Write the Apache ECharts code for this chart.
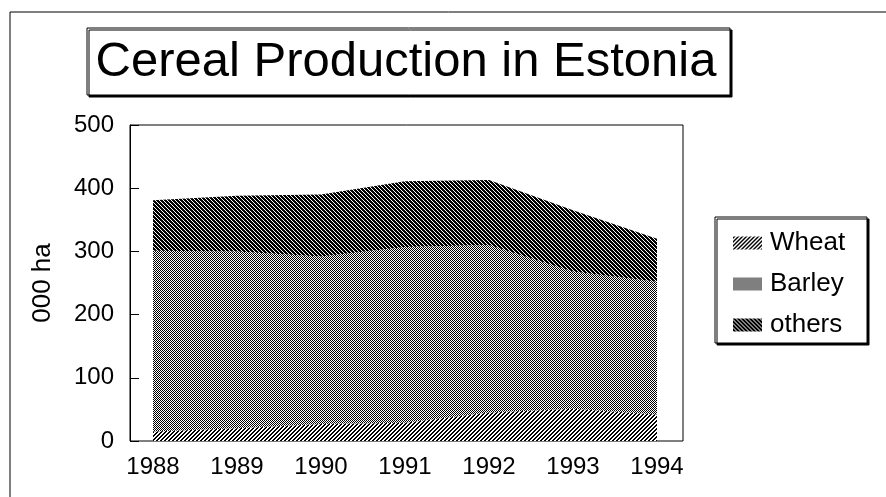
<!DOCTYPE html>
<html>
<head>
<meta charset="utf-8">
<script src="https://cdn.jsdelivr.net/npm/echarts@6/dist/echarts.min.js"></script>
<style>
  html, body { margin: 0; padding: 0; background: #fff; }
  #chart { width: 886px; height: 497px; }
</style>
</head>
<body>
<div id="chart"></div>
<script>
// data (000 ha)
var years = ['1988', '1989', '1990', '1991', '1992', '1993', '1994'];
var wheat = [15, 20, 27, 29, 45, 51, 42];
var barley = [286, 280, 265, 278, 265, 217, 210];
var others = [80, 88, 98, 104, 103, 97, 68];
var yTicks = { min: 0, max: 500, interval: 100 };

var FONT = '"Liberation Sans", Arial, sans-serif';

// black/white fill patterns like the old printout
function makeTile(size, fn) {
  var c = document.createElement('canvas');
  c.width = c.height = size;
  var ctx = c.getContext('2d');
  ctx.fillStyle = '#fff';
  ctx.fillRect(0, 0, size, size);
  ctx.fillStyle = '#000';
  for (var y = 0; y < size; y++) {
    for (var x = 0; x < size; x++) {
      if (fn(x, y)) ctx.fillRect(x, y, 1, 1);
    }
  }
  return { image: c, repeat: 'repeat' };
}
var wheatPat = makeTile(4, function (x, y) { return (x + y) % 4 < 2; });
var barleyPat = makeTile(4, function (x, y) { return (x + y) % 2 === 0; });
var othersPat = makeTile(4, function (x, y) { return (x + y) % 2 === 0 || (x - y + 8) % 4 === 1; });

function areaSeries(name, data, pat) {
  return {
    name: name,
    type: 'line',
    stack: 'total',
    xAxisIndex: 1,
    yAxisIndex: 1,
    data: data,
    symbol: 'none',
    color: '#000',
    lineStyle: { width: 0 },
    areaStyle: { color: pat, opacity: 1 }
  };
}

var myChart = echarts.init(document.getElementById('chart'), null, { renderer: 'canvas' });
myChart.setOption({
  animation: false,
  backgroundColor: '#fff',
  graphic: [
    { type: 'rect', z: 0, shape: { x: 10, y: 12, width: 900, height: 600 },
      style: { fill: 'none', stroke: '#000', lineWidth: 1 } },
    { type: 'rect', z: 1, shape: { x: 87, y: 28, width: 643, height: 67 },
      style: { fill: '#fff', stroke: '#000', lineWidth: 1, shadowColor: '#000', shadowOffsetX: 2, shadowOffsetY: 2, shadowBlur: 0 } },
    { type: 'text', z: 2, x: 406, y: 62,
      style: { text: 'Cereal Production in Estonia', fill: '#000', font: '49px ' + FONT, align: 'center', verticalAlign: 'middle' } },
    { type: 'rect', z: 1, shape: { x: 715, y: 217, width: 152, height: 126 },
      style: { fill: '#fff', stroke: '#000', lineWidth: 1, shadowColor: '#000', shadowOffsetX: 2, shadowOffsetY: 2, shadowBlur: 0 } }
  ],
  legend: {
    z: 5,
    orient: 'vertical',
    left: 733,
    top: 230,
    padding: 0,
    itemWidth: 29,
    itemHeight: 13,
    itemGap: 15,
    icon: 'rect',
    textStyle: { color: '#000', fontSize: 26, lineHeight: 25, fontFamily: FONT, padding: [0, 0, 0, 3] },
    data: [
      { name: 'Wheat', itemStyle: { color: wheatPat } },
      { name: 'Barley', itemStyle: { color: barleyPat } },
      { name: 'others', itemStyle: { color: othersPat } }
    ]
  },
  grid: [
    // frame with the y axis
    { left: 130, top: 125, width: 553, height: 316, show: true, borderColor: '#000', borderWidth: 1, backgroundColor: 'transparent' },
    // data area, years inset from the frame
    { left: 153, top: 125, width: 504, height: 316 }
  ],
  xAxis: [
    { gridIndex: 0, type: 'value', show: false },
    {
      gridIndex: 1,
      type: 'category',
      boundaryGap: false,
      data: years,
      axisLine: { show: false },
      axisTick: { show: false },
      axisLabel: { color: '#000', fontSize: 24, fontFamily: FONT, margin: 14 }
    }
  ],
  yAxis: [
    {
      gridIndex: 0,
      type: 'value',
      min: yTicks.min,
      max: yTicks.max,
      interval: yTicks.interval,
      name: '000 ha',
      nameLocation: 'middle',
      nameGap: 74,
      nameTextStyle: { color: '#000', fontSize: 26, fontFamily: FONT },
      axisLine: { show: true, lineStyle: { color: '#000', width: 1 } },
      axisTick: { show: true, inside: true, length: 9, lineStyle: { color: '#000' } },
      axisLabel: { color: '#000', fontSize: 24, fontFamily: FONT, margin: 16 },
      splitLine: { show: false }
    },
    { gridIndex: 1, type: 'value', min: yTicks.min, max: yTicks.max, show: false }
  ],
  series: [
    areaSeries('Wheat', wheat, wheatPat),
    areaSeries('Barley', barley, barleyPat),
    areaSeries('others', others, othersPat)
  ]
});
</script>
</body>
</html>
